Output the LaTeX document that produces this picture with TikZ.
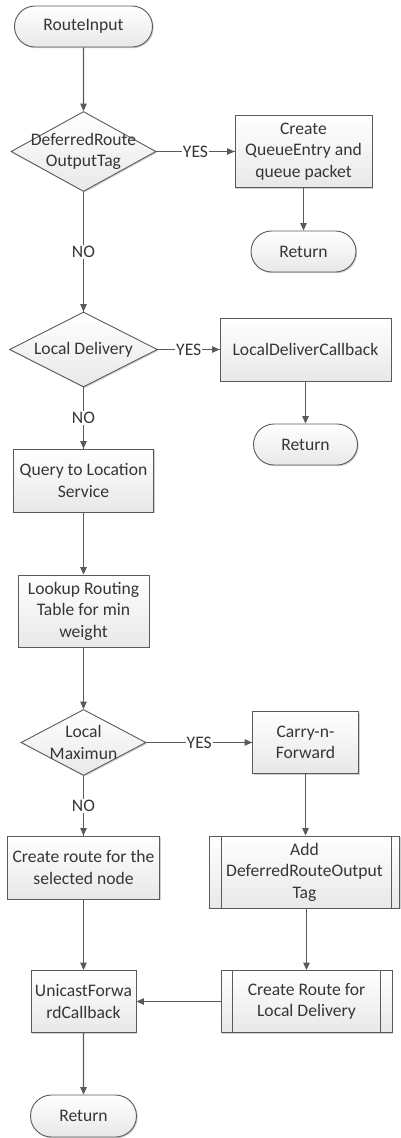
\documentclass[tikz,border=0pt]{standalone}
\usepackage{fontspec}
\setmainfont{Carlito}
\usetikzlibrary{shapes.geometric,shapes.misc,arrows.meta,shadows}
\definecolor{linec}{HTML}{5A5A5A}
\definecolor{txtc}{HTML}{363636}
\definecolor{botc}{HTML}{E8E8E8}
\begin{document}
\begin{tikzpicture}[x=1pt,y=-1pt,
  every node/.style={font=\fontsize{17.6}{21.5}\selectfont, text=txtc},
  base/.style={draw=linec, line width=0.9pt, top color=white, bottom color=botc,
    drop shadow={shadow xshift=1.2pt, shadow yshift=-1.2pt, opacity=0.18, fill=black},
    inner sep=0pt, align=center},
  proc/.style={base, rectangle},
  term/.style={base, rounded rectangle},
  dec/.style={base, diamond, aspect=1},
  txtnode/.style={align=center, inner sep=0pt},
  conn/.style={draw=linec, line width=1.1pt, -{Triangle[length=7.5pt,width=6.5pt]}},
  plain/.style={draw=linec, line width=1.1pt},
  lbl/.style={fill=white, inner sep=1pt, text=txtc}
]
\useasboundingbox (0,0) rectangle (400,1138);

% left column
\node[term, minimum width=138pt, minimum height=41pt] (start) at (83.5,26.5) {RouteInput};
\node[dec, minimum width=145pt, minimum height=80pt] (d1) at (83.5,151.5) {};
\node[txtnode] (d1t) at (d1.center) {DeferredRoute\\OutputTag};
\node[dec, minimum width=148pt, minimum height=75pt] (d2) at (83.5,349.5) {};
\node[txtnode] (d2t) at (d2.center) {Local Delivery};
\node[proc, minimum width=140pt, minimum height=63pt] (query) at (83.5,480.5) {Query to Location\\Service};
\node[proc, minimum width=131pt, minimum height=72pt] (lookup) at (83.5,611) {Lookup Routing\\Table for min\\weight};
\node[dec, minimum width=125pt, minimum height=66pt] (d3) at (83.5,742.5) {};
\node[txtnode] (d3t) at (d3.center) {Local\\Maximun};
\node[proc, minimum width=152pt, minimum height=63pt] (create) at (83.5,867.5) {Create route for the\\selected node};
\node[proc, minimum width=105pt, minimum height=62pt] (uni) at (83.5,1001.5) {UnicastForwa\\rdCallback};
\node[term, minimum width=106pt, minimum height=42pt] (ret3) at (83.5,1116) {Return};

% right column
\node[proc, minimum width=137pt, minimum height=72pt] (q1) at (303.5,151.5) {Create\\QueueEntry and\\queue packet};
\node[term, minimum width=105pt, minimum height=41pt] (ret1) at (303.5,251.5) {Return};
\node[proc, minimum width=171pt, minimum height=63pt] (ldc) at (305.5,349.5) {LocalDeliverCallback};
\node[term, minimum width=104pt, minimum height=41pt] (ret2) at (305.5,444.5) {Return};
\node[proc, minimum width=106pt, minimum height=62pt] (cnf) at (305.5,742.5) {Carry-n-\\Forward};
\node[proc, minimum width=190pt, minimum height=72pt] (add) at (304.5,872) {Add\\DeferredRouteOutput\\Tag};
\draw[linec, line width=0.9pt] ([xshift=12.5pt]add.north west) -- ([xshift=12.5pt]add.south west)
  ([xshift=-9pt]add.north east) -- ([xshift=-9pt]add.south east);
\node[proc, minimum width=171pt, minimum height=62pt] (crl) at (306.5,1001.5) {Create Route for\\Local Delivery};
\draw[linec, line width=0.9pt] ([xshift=12pt]crl.north west) -- ([xshift=12pt]crl.south west)
  ([xshift=-12.5pt]crl.north east) -- ([xshift=-12.5pt]crl.south east);

% connectors
\draw[conn] (start) -- (d1);
\draw[plain] (d1) -- node[lbl] (y1) {YES} (q1);
\draw[conn] (y1) -- (q1);
\draw[conn] (q1) -- (ret1);
\draw[plain] (d1) -- node[lbl] (n1) {NO} (d2);
\draw[conn] (n1) -- (d2);
\draw[plain] (d2) -- node[lbl] (y2) {YES} (ldc);
\draw[conn] (y2) -- (ldc);
\draw[conn] (ldc) -- (ret2);
\draw[plain] (d2) -- node[lbl] (n2) {NO} (query);
\draw[conn] (n2) -- (query);
\draw[conn] (query) -- (lookup);
\draw[conn] (lookup) -- (d3);
\draw[plain] (d3) -- node[lbl] (y3) {YES} (cnf);
\draw[conn] (y3) -- (cnf);
\draw[plain] (d3) -- node[lbl] (n3) {NO} (create);
\draw[conn] (n3) -- (create);
\draw[conn] (cnf) -- (cnf |- add.north);
\draw[conn] (add.south -| crl) -- (crl);
\draw[conn] (crl) -- (uni);
\draw[conn] (create) -- (uni);
\draw[conn] (uni) -- (ret3);
\end{tikzpicture}
\end{document}
